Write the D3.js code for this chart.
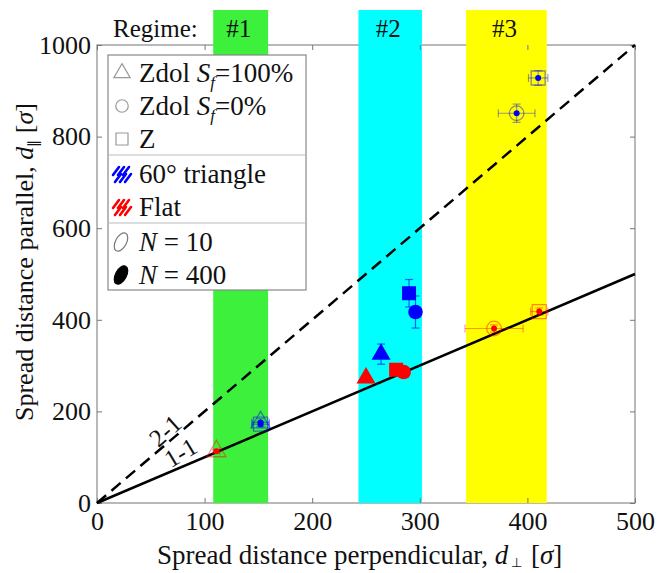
<!DOCTYPE html>
<html><head><meta charset="utf-8">
<script src="https://cdn.jsdelivr.net/npm/d3@7"></script>
<style>
body{margin:0;background:#fff;}
</style></head>
<body><svg id="c" width="671" height="573"></svg>
<script>
// ---- data ----
const xTicks = [0, 100, 200, 300, 400, 500];
const yTicks = [0, 200, 400, 600, 800, 1000];
const regimeLabels = ["#1", "#2", "#3"];
const regimeStart = [108, 243, 343];
const regimeEnd = [159, 302, 418];
const regimeColors = ["#3cf03c", "#00ffff", "#ffff00"];

// points
const ptX    = [152, 152, 111, 290, 296, 264, 250, 278, 285, 410, 390, 369, 411];
const ptY    = [172, 176, 113, 458, 417, 325, 273, 291, 286, 928, 851, 381, 418];
const ptShape= ["square","triangle","triangle","square","circle","triangle","triangle","square","circle","square","circle","circle","square"];
const ptGeom = ["tri60","tri60","flat","tri60","tri60","tri60","flat","flat","flat","tri60","tri60","flat","flat"];
const ptN    = [10, 10, 10, 400, 400, 400, 400, 400, 400, 10, 10, 10, 10];
const ptXErr = [8, 8, 3, 0, 0, 0, 0, 0, 0, 9, 17, 27, 8];
const ptYErr = [6, 8, 4, 30, 35, 22, 0, 0, 0, 16, 20, 8, 8];

const legendShapes = ["Zdol S_f=100%", "Zdol S_f=0%", "Z"];
const legendGeoms = ["60° triangle", "Flat"];
const legendN = ["N = 10", "N = 400"];

// ---- drawing ----
const FONT = "Liberation Serif";
const svg = d3.select("#c").attr("font-family", FONT);
const W = 671, H = 573;
const m = {l: 97, r: 635, t: 45, b: 503};
const x = d3.scaleLinear().domain([0, 500]).range([m.l, m.r]);
const y = d3.scaleLinear().domain([0, 1000]).range([m.b, m.t]);
const geomColor = {tri60: "#0000ff", flat: "#ff0000"};

svg.append("rect").attr("width", W).attr("height", H).attr("fill", "#fff");

// frame
svg.append("rect").attr("x", m.l).attr("y", m.t).attr("width", m.r - m.l).attr("height", m.b - m.t)
  .attr("fill", "none").attr("stroke", "#8a8a8a").attr("stroke-width", 1.2);

// bands
regimeLabels.forEach((lab, i) => {
  svg.append("rect").attr("x", x(regimeStart[i])).attr("y", 10)
    .attr("width", x(regimeEnd[i]) - x(regimeStart[i])).attr("height", m.b - 10)
    .attr("fill", regimeColors[i]);
  svg.append("text").attr("x", (x(regimeStart[i]) + x(regimeEnd[i])) / 2 - 2).attr("y", 37)
    .attr("text-anchor", "middle").attr("font-size", 25).attr("font-family", FONT).attr("fill", "#111").text(lab);
});
svg.append("text").attr("x", 113).attr("y", 37).attr("font-size", 25).attr("font-family", FONT).attr("fill", "#111").text("Regime:");

// axes
function styleAxis(g) {
  g.attr("font-family", FONT);
  g.select(".domain").remove();
  g.selectAll(".tick line").attr("stroke", "#777").attr("stroke-width", 1);
  g.selectAll("text").attr("font-size", 26).attr("fill", "#111").attr("font-family", FONT);
}
svg.append("g").attr("transform", `translate(0,${m.b})`)
  .call(d3.axisBottom(x).tickValues(xTicks).tickSizeInner(-5).tickSizeOuter(0).tickPadding(9).tickFormat(d3.format("d")))
  .call(styleAxis);
svg.append("g").attr("transform", `translate(${m.l},0)`)
  .call(d3.axisLeft(y).tickValues(yTicks).tickSizeInner(-5).tickSizeOuter(0).tickPadding(6).tickFormat(d3.format("d")))
  .call(styleAxis);
svg.append("g").attr("transform", `translate(0,${m.t})`)
  .call(d3.axisTop(x).tickValues(xTicks).tickSizeInner(-5).tickSizeOuter(0).tickFormat(""))
  .call(styleAxis);
svg.append("g").attr("transform", `translate(${m.r},0)`)
  .call(d3.axisRight(y).tickValues(yTicks).tickSizeInner(-5).tickSizeOuter(0).tickFormat(""))
  .call(styleAxis);

// axis titles
const xt = svg.append("text").attr("x", 157).attr("y", 564)
  .attr("font-size", 27).attr("font-family", FONT).attr("fill", "#111");
xt.append("tspan").text("Spread distance perpendicular, ");
xt.append("tspan").attr("font-style", "italic").text("d");
xt.append("tspan").attr("font-size", 13).attr("dx", 3).attr("dy", 3).text("⊥");
xt.append("tspan").attr("dy", -3).attr("dx", 2).text(" [");
xt.append("tspan").attr("font-style", "italic").text("σ");
xt.append("tspan").text("]");

const yt = svg.append("text").attr("transform", `translate(33,262) rotate(-90)`)
  .attr("text-anchor", "middle").attr("font-size", 26).attr("font-family", FONT).attr("fill", "#111");
yt.append("tspan").text("Spread distance parallel, ");
yt.append("tspan").attr("font-style", "italic").text("d");
yt.append("tspan").attr("font-size", 14).attr("dy", 5).text("∥");
yt.append("tspan").attr("dy", -5).text(" [");
yt.append("tspan").attr("font-style", "italic").text("σ");
yt.append("tspan").text("]");

// reference lines
svg.append("line").attr("x1", x(0)).attr("y1", y(0)).attr("x2", x(500)).attr("y2", y(1000))
  .attr("stroke", "#000").attr("stroke-width", 2.5).attr("stroke-dasharray", "12,7");
svg.append("line").attr("x1", x(0)).attr("y1", y(0)).attr("x2", x(500)).attr("y2", y(500))
  .attr("stroke", "#000").attr("stroke-width", 2.5);
svg.append("text").attr("transform", `translate(171,437) rotate(-42)`).attr("text-anchor", "middle")
  .attr("font-size", 25).attr("font-family", FONT).attr("fill", "#111").text("2-1");
svg.append("text").attr("transform", `translate(185,460) rotate(-31)`).attr("text-anchor", "middle")
  .attr("font-size", 25).attr("font-family", FONT).attr("fill", "#111").text("1-1");

// markers
function shapePath(shape, s) {
  if (shape === "triangle") return d3.symbol(d3.symbolTriangle, s * s * 0.8)();
  if (shape === "square") return d3.symbol(d3.symbolSquare, s * s)();
  return d3.symbol(d3.symbolCircle, s * s * 0.85)();
}
const gp = svg.append("g");
ptX.forEach((vx, i) => {
  const cx = x(vx), cy = y(ptY[i]);
  const col = geomColor[ptGeom[i]];
  const hollow = ptN[i] === 10;
  const eo = hollow ? 0.4 : 0.6;
  const eg = gp.append("g").attr("stroke", col).attr("stroke-opacity", eo).attr("stroke-width", 1.2);
  if (ptXErr[i] > 0) {
    const a = x(vx - ptXErr[i]), b = x(vx + ptXErr[i]);
    eg.append("line").attr("x1", a).attr("x2", b).attr("y1", cy).attr("y2", cy);
    eg.append("line").attr("x1", a).attr("x2", a).attr("y1", cy - 4).attr("y2", cy + 4);
    eg.append("line").attr("x1", b).attr("x2", b).attr("y1", cy - 4).attr("y2", cy + 4);
  }
  if (ptYErr[i] > 0) {
    const a = y(ptY[i] - ptYErr[i]), b = y(ptY[i] + ptYErr[i]);
    eg.append("line").attr("y1", a).attr("y2", b).attr("x1", cx).attr("x2", cx);
    eg.append("line").attr("y1", a).attr("y2", a).attr("x1", cx - 4).attr("x2", cx + 4);
    eg.append("line").attr("y1", b).attr("y2", b).attr("x1", cx - 4).attr("x2", cx + 4);
  }
});
ptX.forEach((vx, i) => {
  const cx = x(vx), cy = y(ptY[i]);
  const col = geomColor[ptGeom[i]];
  if (ptN[i] === 10) {
    gp.append("path").attr("d", shapePath(ptShape[i], 14)).attr("transform", `translate(${cx},${cy})`)
      .attr("fill", "none").attr("stroke", col).attr("stroke-opacity", 0.45).attr("stroke-width", 1.3);
    gp.append("circle").attr("cx", cx).attr("cy", cy).attr("r", 3).attr("fill", col);
  } else {
    gp.append("path").attr("d", shapePath(ptShape[i], 14)).attr("transform", `translate(${cx},${cy})`)
      .attr("fill", col);
  }
});

// legend
const lg = svg.append("g").attr("font-family", FONT);
lg.append("rect").attr("x", 108).attr("y", 55).attr("width", 198).attr("height", 235)
  .attr("fill", "#fff").attr("stroke", "#888").attr("stroke-width", 1.2);
lg.append("line").attr("x1", 108).attr("x2", 306).attr("y1", 155).attr("y2", 155).attr("stroke", "#bbb");
lg.append("line").attr("x1", 108).attr("x2", 306).attr("y1", 223).attr("y2", 223).attr("stroke", "#bbb");
const tx = 139, fs = 27;
const shapeRows = [73, 106, 139];
const shapeKeys = ["triangle", "circle", "square"];
legendShapes.forEach((lab, i) => {
  const cy = shapeRows[i];
  lg.append("path").attr("d", shapePath(shapeKeys[i], 12)).attr("transform", `translate(122,${cy})`)
    .attr("fill", "none").attr("stroke", "#999").attr("stroke-width", 1.2);
  const t = lg.append("text").attr("x", tx).attr("y", cy + 9).attr("font-size", fs).attr("font-family", FONT).attr("fill", "#111");
  const parts = lab.split("S_f");
  t.append("tspan").text(parts[0]);
  if (parts.length > 1) {
    t.append("tspan").attr("font-style", "italic").text("S");
    t.append("tspan").attr("font-style", "italic").attr("font-size", 17).attr("dy", 6).text("f");
    t.append("tspan").attr("dy", -6).text(parts[1]);
  }
});
const geomRows = [174, 207];
const geomKeys = ["tri60", "flat"];
legendGeoms.forEach((lab, i) => {
  const cy = geomRows[i];
  const col = geomColor[geomKeys[i]];
  const hg = lg.append("g").attr("stroke", col).attr("stroke-width", 2.6).attr("stroke-linecap", "round");
  [[-9, -2], [-4, -2], [1, -2], [-7, 5], [-2, 5], [3, 5]].forEach(([dx, dy]) => {
    hg.append("line").attr("x1", 122 + dx).attr("y1", cy + dy + 3).attr("x2", 122 + dx + 6).attr("y2", cy + dy - 5);
  });
  lg.append("text").attr("x", tx).attr("y", cy + 9).attr("font-size", fs).attr("font-family", FONT).attr("fill", "#111").text(lab);
});
const nRows = [242, 275];
legendN.forEach((lab, i) => {
  const cy = nRows[i];
  lg.append("ellipse").attr("cx", 121).attr("cy", cy).attr("rx", 5.5).attr("ry", 10)
    .attr("transform", `rotate(28,121,${cy})`)
    .attr("fill", i === 1 ? "#000" : "none").attr("stroke", i === 1 ? "#000" : "#777").attr("stroke-width", 1.2);
  const t = lg.append("text").attr("x", tx).attr("y", cy + 9).attr("font-size", fs).attr("font-family", FONT).attr("fill", "#111");
  const p = lab.split(" = ");
  t.append("tspan").attr("font-style", "italic").text(p[0]);
  t.append("tspan").text(" = " + p[1]);
});
</script></body></html>
